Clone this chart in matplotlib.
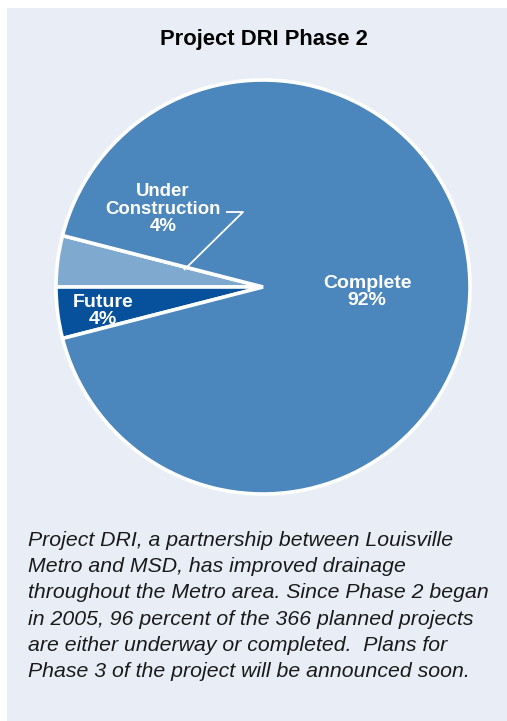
import matplotlib.pyplot as plt
from matplotlib.patches import Rectangle

# data
categories = ['Under Construction', 'Future', 'Complete']
shares = [4, 4, 92]
colors = ['#80a9d0', '#07509b', '#4b86bd']

title = 'Project DRI Phase 2'
caption = ('Project DRI, a partnership between Louisville\n'
           'Metro and MSD, has improved drainage\n'
           'throughout the Metro area. Since Phase 2 began\n'
           'in 2005, 96 percent of the 366 planned projects\n'
           'are either underway or completed.  Plans for\n'
           'Phase 3 of the project will be announced soon.')

W, H = 507, 721
fig = plt.figure(figsize=(W / 100, H / 100), dpi=100)
fig.patch.set_facecolor('white')

# light panel behind everything
fig.patches.append(Rectangle((7 / W, 0), 1 - 7 / W, 1 - 8 / H,
                             transform=fig.transFigure, facecolor='#e9eef6',
                             edgecolor='none', zorder=-1))

# pie axes, centre (263, 287) px, radius 207 px
cx, cy, r = 263, 287, 207
pad = 1.05
half = r * pad
ax = fig.add_axes([(cx - half) / W, (H - cy - half) / H, 2 * half / W, 2 * half / H])
ax.patch.set_visible(False)

start = 180 - 360 * shares[0] / sum(shares)
ax.pie(shares, colors=colors, startangle=start, counterclock=True,
       wedgeprops=dict(edgecolor='white', linewidth=2.6))
ax.set_xlim(-pad, pad)
ax.set_ylim(-pad, pad)
ax.set_aspect('equal')


def px(x, y):
    return (x - cx) / r, (cy - y) / r


lab = dict(color='white', fontweight='bold', family='Liberation Sans',
           ha='center', va='center', linespacing=1.02)
ax.text(*px(367, 292), 'Complete\n92%', fontsize=14, **lab)
ax.text(*px(103, 311), 'Future\n4%', fontsize=14, **lab)
ax.text(*px(163, 209), 'Under\nConstruction\n4%', fontsize=13.4, **lab)

# leader line for the under construction slice
lx = [px(226, 212)[0], px(243, 212)[0], px(184, 270)[0]]
ly = [px(226, 212)[1], px(243, 212)[1], px(184, 270)[1]]
ax.plot(lx, ly, color='white', linewidth=1.3, solid_capstyle='butt')

fig.text(264 / W, 1 - 40 / H, title, ha='center', va='center',
         fontsize=15.8, fontweight='bold', family='Liberation Sans', color='black')

fig.text(28 / W, 1 - 531 / H, caption, ha='left', va='top', style='italic',
         fontsize=15.3, family='Liberation Sans', color='#1a1a1a', linespacing=1.48)

fig.savefig('out.png', dpi=100)
